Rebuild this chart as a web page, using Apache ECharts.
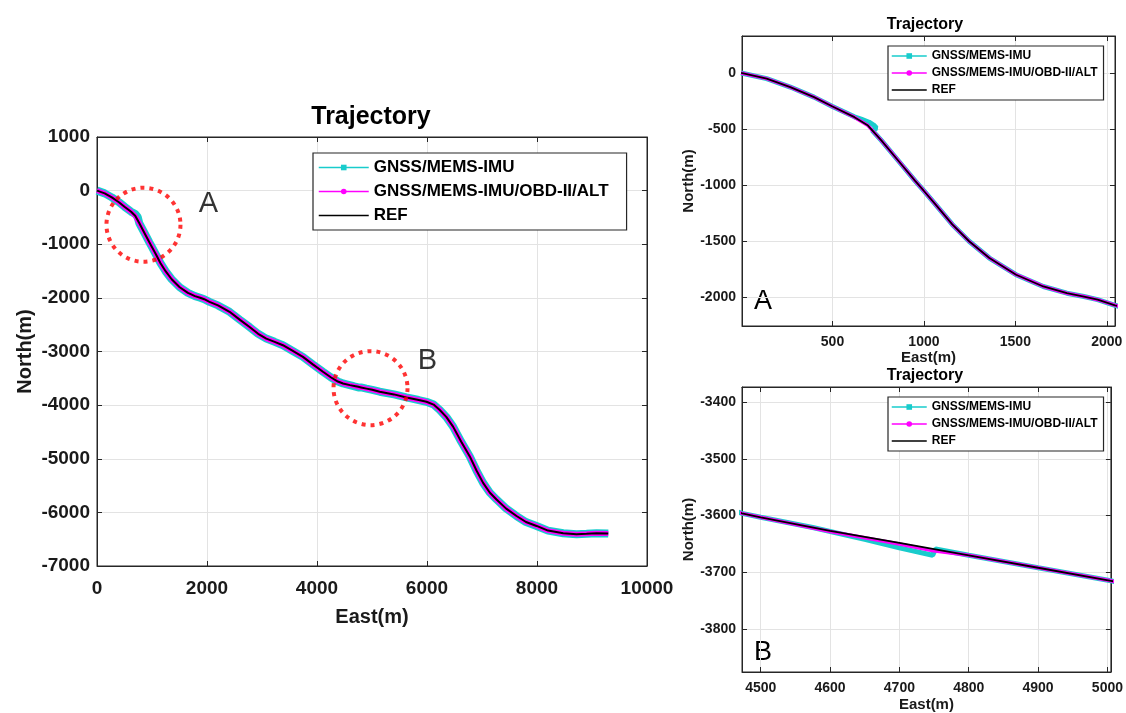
<!DOCTYPE html>
<html>
<head>
<meta charset="utf-8">
<script src="https://cdn.jsdelivr.net/npm/echarts@6/dist/echarts.min.js"></script>
<style>
  html, body { margin: 0; padding: 0; background: #fff; }
  #chart { width: 1126px; height: 713px; }
</style>
</head>
<body>
<div id="chart"></div>
<script>
// reference trajectory (m)
const refEast = [0, 140, 269, 399, 500, 620, 694, 768, 860, 952, 1000, 1063, 1155, 1247, 1358, 1504, 1653, 1782, 1875, 1950,
  1958, 2045, 2200, 2410, 2600, 2774, 2930, 3078, 3230, 3380, 3560, 3744, 3930, 4108, 4250, 4380, 4473, 4500, 4600, 4700,
  4750, 4800, 4900, 5005, 5140, 5400, 5626, 5850, 5990, 6120, 6232, 6350, 6474, 6620, 6778, 6900, 7020, 7140, 7264, 7440,
  7628, 7800, 7992, 8200, 8477, 8720, 8900, 9084, 9296];
const refNorth = [0, -51, -126, -216, -300, -395, -470, -605, -784, -964, -1054, -1174, -1353, -1503, -1653, -1802, -1907, -1967, -1997, -2025,
  -2040, -2075, -2140, -2260, -2410, -2544, -2670, -2759, -2820, -2883, -2990, -3100, -3245, -3378, -3480, -3560, -3596, -3603, -3627, -3648,
  -3659, -3670, -3692, -3715, -3750, -3800, -3857, -3905, -3938, -3990, -4090, -4220, -4401, -4680, -4957, -5220, -5450, -5630, -5759, -5930,
  -6068, -6180, -6253, -6340, -6389, -6407, -6400, -6389, -6395];

// GNSS/MEMS-IMU (drifts in zones A and B)
const imuEast = [0, 140, 269, 399, 500, 620, 660, 700, 725, 740, 718, 768, 860, 952, 1000, 1063, 1155, 1247, 1358, 1504, 1653, 1782, 1875, 1950,
  1958, 2045, 2200, 2410, 2600, 2774, 2930, 3078, 3230, 3380, 3560, 3744, 3930, 4108, 4250, 4380, 4473, 4500, 4575, 4650, 4700,
  4748, 4752, 4800, 4900, 5005, 5140, 5400, 5626, 5850, 5990, 6120, 6232, 6350, 6474, 6620, 6778, 6900, 7020, 7140, 7264, 7440,
  7628, 7800, 7992, 8200, 8477, 8720, 8900, 9084, 9296];
const imuNorth = [0, -51, -126, -216, -300, -392, -415, -440, -465, -492, -515, -605, -784, -964, -1054, -1174, -1353, -1503, -1653, -1802, -1907, -1967, -1997, -2025,
  -2040, -2075, -2140, -2260, -2410, -2544, -2670, -2759, -2820, -2883, -2990, -3100, -3245, -3378, -3480, -3560, -3596, -3603, -3621, -3642, -3657,
  -3670, -3659, -3670, -3692, -3715, -3750, -3800, -3857, -3905, -3938, -3990, -4090, -4220, -4401, -4680, -4957, -5220, -5450, -5630, -5759, -5930,
  -6068, -6180, -6253, -6340, -6389, -6407, -6400, -6389, -6395];

// GNSS/MEMS-IMU/OBD-II/ALT
const obdEast = [0, 140, 269, 399, 500, 620, 694, 768, 860, 952, 1000, 1063, 1155, 1247, 1358, 1504, 1653, 1782, 1875, 1950,
  1958, 2045, 2200, 2410, 2600, 2774, 2930, 3078, 3230, 3380, 3560, 3744, 3930, 4108, 4250, 4380, 4473, 4500, 4600, 4700,
  4749, 4751, 4800, 4900, 5005, 5140, 5400, 5626, 5850, 5990, 6120, 6232, 6350, 6474, 6620, 6778, 6900, 7020, 7140, 7264, 7440,
  7628, 7800, 7992, 8200, 8477, 8720, 8900, 9084, 9296];
const obdNorth = [0, -51, -126, -216, -300, -395, -470, -605, -784, -964, -1054, -1174, -1353, -1503, -1653, -1802, -1907, -1967, -1997, -2025,
  -2040, -2075, -2140, -2260, -2410, -2544, -2670, -2759, -2820, -2883, -2990, -3100, -3245, -3378, -3480, -3560, -3596, -3603, -3628, -3650,
  -3662, -3659, -3670, -3692, -3715, -3750, -3800, -3857, -3905, -3938, -3990, -4090, -4220, -4401, -4680, -4957, -5220, -5450, -5630, -5759, -5930,
  -6068, -6180, -6253, -6340, -6389, -6407, -6400, -6389, -6395];

// zoom circles on the overview
const circleNames = ['A', 'B'];
const circleEast = [845, 4973];
const circleNorth = [-636, -3683];

const zoneATicksX = [500, 1000, 1500, 2000];
const zoneATicksY = [-2000, -1500, -1000, -500, 0];
const zoneBTicksX = [4500, 4600, 4700, 4800, 4900, 5000];
const zoneBTicksY = [-3800, -3700, -3600, -3500, -3400];

const names = ['GNSS/MEMS-IMU', 'GNSS/MEMS-IMU/OBD-II/ALT', 'REF'];
const CYAN = '#19cccc', MAGENTA = '#ff00ff', BLACK = '#000000';
const FONT = 'Liberation Sans, Arial, sans-serif';

function zip(xs, ys) { return xs.map((x, i) => [x, ys[i]]); }

var myChart = echarts.init(document.getElementById('chart'));

function axisCommon(fs, margin) {
  return {
    axisLine: { show: true, onZero: false, lineStyle: { color: '#262626', width: 1 } },
    axisTick: { show: true, inside: true, length: 5, lineStyle: { color: '#262626' } },
    axisLabel: { color: '#1a1a1a', fontSize: fs, fontWeight: 'bold', fontFamily: FONT, margin: margin,
      formatter: function (v) { return String(v); } },
    splitLine: { show: true, lineStyle: { color: '#e3e3e3', width: 1 } },
    nameTextStyle: { color: '#1a1a1a', fontSize: fs + 1, fontWeight: 'bold', fontFamily: FONT }
  };
}

function tickAxis(base, ticks) {
  base.axisTick.customValues = ticks;
  base.axisLabel.customValues = ticks;
  return base;
}

// mirror axes: ticks on top / right like a boxed plot
function mirror(base, pos) {
  base.position = pos;
  base.axisLabel.show = false;
  base.splitLine.show = false;
  base.name = '';
  return base;
}

const xAxes = [
  Object.assign(axisCommon(19, 13), { gridIndex: 0, type: 'value', min: 0, max: 10000, interval: 2000, name: 'East(m)', nameLocation: 'middle', nameGap: 41 }),
  Object.assign(tickAxis(axisCommon(14, 9), zoneATicksX), { gridIndex: 1, type: 'value', min: 5, max: 2045, name: 'East(m)', nameLocation: 'middle', nameGap: 24 }),
  Object.assign(tickAxis(axisCommon(14, 9), zoneBTicksX), { gridIndex: 2, type: 'value', min: 4473, max: 5005, name: 'East(m)', nameLocation: 'middle', nameGap: 25 }),
  Object.assign(mirror(axisCommon(19, 8), 'top'), { gridIndex: 0, type: 'value', min: 0, max: 10000, interval: 2000 }),
  Object.assign(mirror(tickAxis(axisCommon(14, 8), zoneATicksX), 'top'), { gridIndex: 1, type: 'value', min: 5, max: 2045 }),
  Object.assign(mirror(tickAxis(axisCommon(14, 8), zoneBTicksX), 'top'), { gridIndex: 2, type: 'value', min: 4473, max: 5005 })
];
const yAxes = [
  Object.assign(axisCommon(19, 7), { gridIndex: 0, type: 'value', min: -7000, max: 1000, interval: 1000, name: 'North(m)', nameLocation: 'middle', nameGap: 62 }),
  Object.assign(tickAxis(axisCommon(14, 6), zoneATicksY), { gridIndex: 1, type: 'value', min: -2260, max: 330, name: 'North(m)', nameLocation: 'middle', nameGap: 37 }),
  Object.assign(tickAxis(axisCommon(14, 6), zoneBTicksY), { gridIndex: 2, type: 'value', min: -3876, max: -3373, name: 'North(m)', nameLocation: 'middle', nameGap: 37 }),
  Object.assign(mirror(axisCommon(19, 8), 'right'), { gridIndex: 0, type: 'value', min: -7000, max: 1000, interval: 1000 }),
  Object.assign(mirror(tickAxis(axisCommon(14, 8), zoneATicksY), 'right'), { gridIndex: 1, type: 'value', min: -2260, max: 330 }),
  Object.assign(mirror(tickAxis(axisCommon(14, 8), zoneBTicksY), 'right'), { gridIndex: 2, type: 'value', min: -3876, max: -3373 })
];

const widths = [[8, 5, 2], [5, 3.5, 1.8], [5, 3.5, 1.8]];
const series = [];
for (let g = 0; g < 3; g++) {
  series.push({
    name: names[0], type: 'line', xAxisIndex: g, yAxisIndex: g, data: zip(imuEast, imuNorth),
    symbol: 'rect', symbolSize: 6, showSymbol: false, smooth: false, z: 2,
    itemStyle: { color: CYAN }, lineStyle: { color: CYAN, width: widths[g][0] }
  });
  series.push({
    name: names[1], type: 'line', xAxisIndex: g, yAxisIndex: g, data: zip(obdEast, obdNorth),
    symbol: 'circle', symbolSize: 3, showSymbol: false, smooth: false, z: 3,
    itemStyle: { color: MAGENTA }, lineStyle: { color: MAGENTA, width: widths[g][1] }
  });
  series.push({
    name: names[2], type: 'line', xAxisIndex: g, yAxisIndex: g, data: zip(refEast, refNorth),
    symbol: 'none', smooth: false, z: 4,
    itemStyle: { color: '#333' }, lineStyle: { color: BLACK, width: widths[g][2] }
  });
}
const circleLabelOffsets = [[65, -21], [57, -27]];
series.push({
  type: 'scatter', xAxisIndex: 0, yAxisIndex: 0, z: 5,
  data: circleNames.map((n, i) => ({ name: n, value: [circleEast[i], circleNorth[i]], label: { offset: circleLabelOffsets[i] } })),
  symbol: 'circle', symbolSize: 74, silent: true,
  itemStyle: { color: 'rgba(0,0,0,0)', borderColor: '#ff0000', borderWidth: 4, borderType: [4, 5] },
  label: {
    show: true, position: 'inside', formatter: '{b}', fontSize: 29, fontFamily: FONT, color: '#000',
    textBorderWidth: 0
  }
});

function legendAt(left, top, fs, lineW, gap, pad) {
  return {
    left: left, top: top, orient: 'vertical',
    data: [
      { name: names[0] },
      { name: names[1] },
      { name: names[2], itemStyle: { color: 'rgba(0,0,0,0)', borderWidth: 0 } }
    ],
    backgroundColor: '#fff', borderColor: '#262626', borderWidth: 1.2, borderRadius: 0,
    padding: pad, itemWidth: lineW, itemHeight: 7, itemGap: gap,
    lineStyle: { width: 1.5 }, selectedMode: false,
    textStyle: { color: '#000', fontSize: fs, fontWeight: 'bold', fontFamily: FONT }
  };
}

option = {
  backgroundColor: '#ffffff',
  animation: false,
  title: [
    { text: 'Trajectory', left: 366, top: 100, textAlign: 'center', textStyle: { fontSize: 25, fontWeight: 'bold', fontFamily: FONT, color: '#000' } },
    { text: 'Trajectory', left: 920, top: 12, textAlign: 'center', textStyle: { fontSize: 16, fontWeight: 'bold', fontFamily: FONT, color: '#000' } },
    { text: 'Trajectory', left: 920, top: 363, textAlign: 'center', textStyle: { fontSize: 16, fontWeight: 'bold', fontFamily: FONT, color: '#000' } }
  ],
  legend: [
    legendAt(313, 153, 17, 50, 7, [6, 18, 6, 5]),
    legendAt(888, 46, 12, 35, 5, [4, 6, 4, 3]),
    legendAt(888, 397, 12, 35, 5, [4, 6, 4, 3])
  ],
  grid: [
    { left: 97, top: 137, width: 550, height: 429, show: true, borderColor: '#262626', borderWidth: 1 },
    { left: 742, top: 36, width: 373, height: 290, show: true, borderColor: '#262626', borderWidth: 1 },
    { left: 742, top: 387, width: 373, height: 290, show: true, borderColor: '#262626', borderWidth: 1 }
  ],
  xAxis: xAxes,
  yAxis: yAxes,
  graphic: [
    { type: 'text', left: 754, top: 288, style: { text: 'A', fontSize: 27, fontFamily: FONT, fill: '#000' } },
    { type: 'text', left: 754, top: 639, style: { text: 'B', fontSize: 27, fontFamily: FONT, fill: '#000' } }
  ],
  series: series
};

option && myChart.setOption(option);
</script>
</body>
</html>
